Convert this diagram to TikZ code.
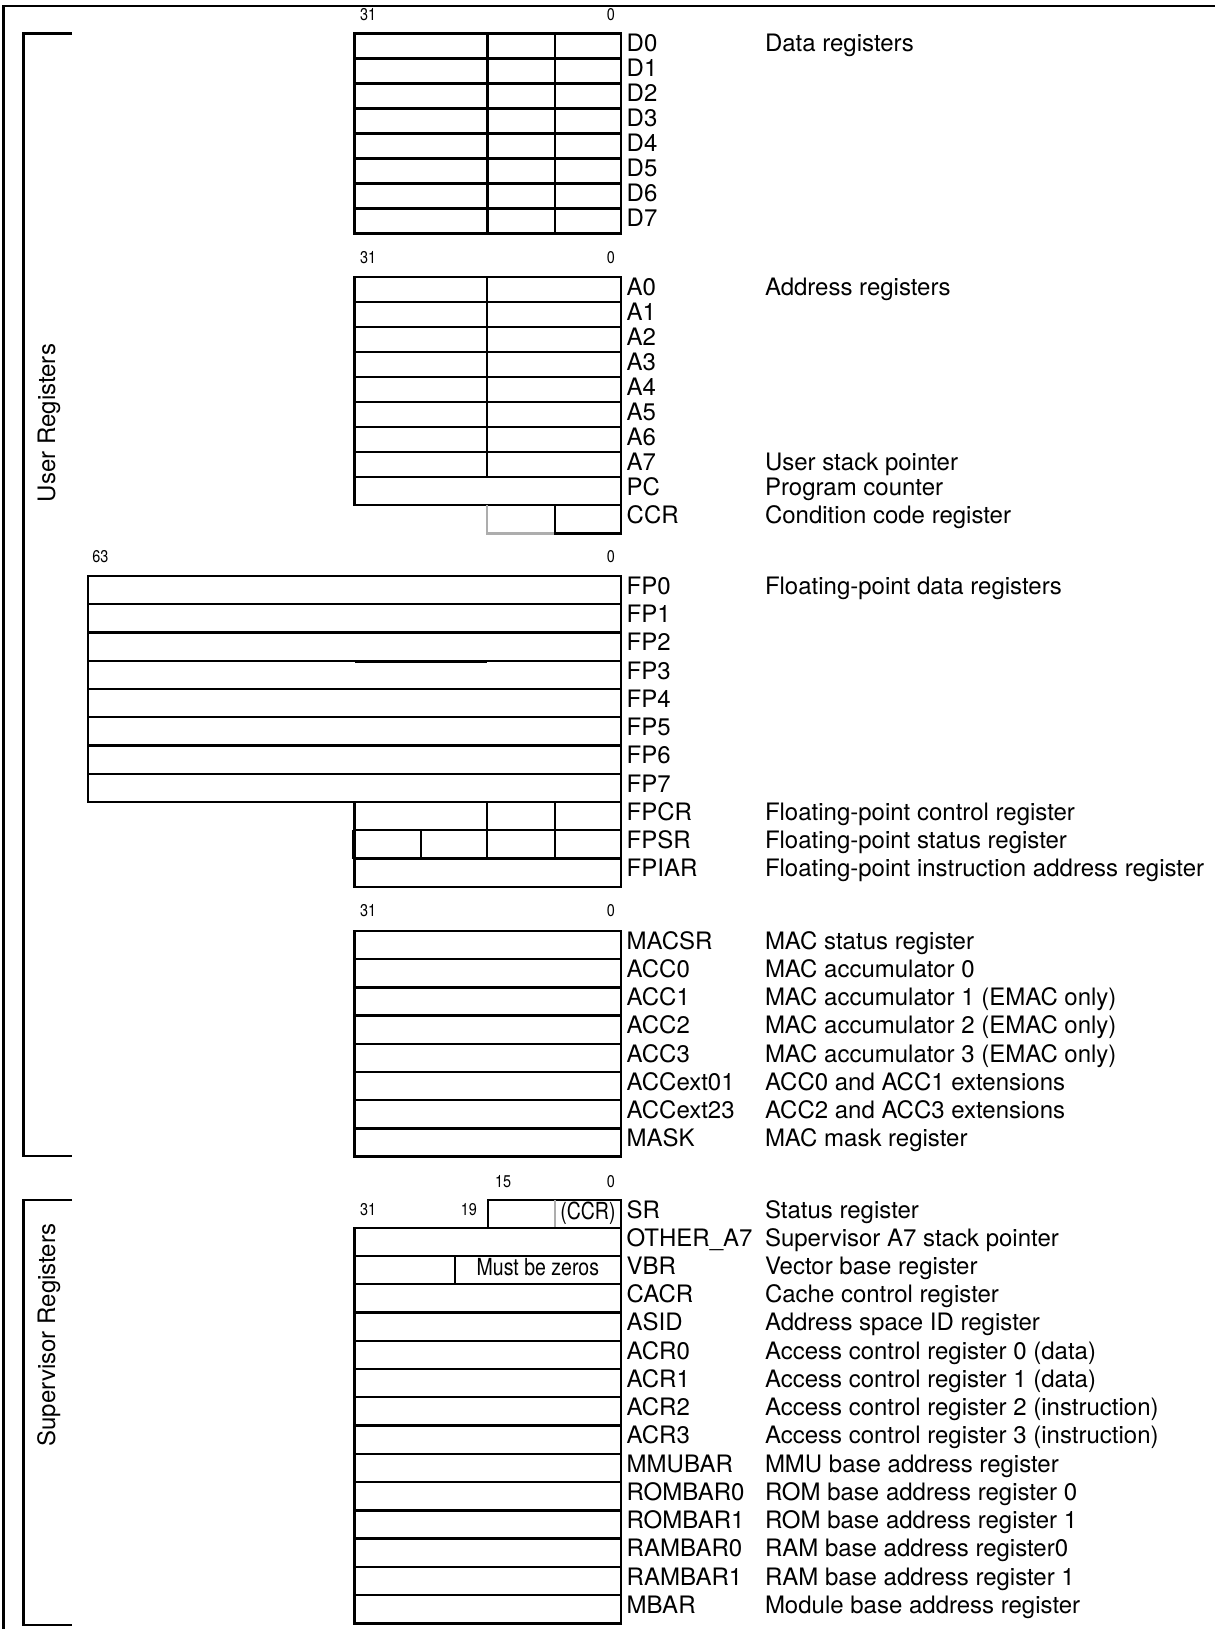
\documentclass[tikz,border=0pt]{standalone}
\usepackage{fontspec}
\setmainfont{TeX Gyre Heros}
\begin{document}
\begin{tikzpicture}[x=0.5pt,y=-0.5pt,
  reg/.style={line width=1.2pt},
  grayln/.style={line width=1.2pt,draw=black!32},
  frameln/.style={line width=1.1pt},
  lbl/.style={anchor=base west,inner sep=0pt,outer sep=0pt,font=\fontsize{12}{14}\selectfont},
  bitlbl/.style={inner sep=0pt,outer sep=0pt,font=\fontsize{8.5}{10}\selectfont},
  narrowlbl/.style={inner sep=0pt,outer sep=0pt,font=\fontsize{11.75}{14}\selectfont},
  side/.style={rotate=90,anchor=base,inner sep=0pt,outer sep=0pt,font=\fontsize{12}{14}\selectfont}]
\useasboundingbox (0,0) rectangle (1215,1629);

% outer frame (top and left only)
\draw[frameln] (3.5,1629) -- (3.5,5.7) -- (1215,5.7);

% brackets
\draw[reg] (72,33.3) -- (23.3,33.3) -- (23.3,1156) -- (72,1156);
\node[side] (userlbl) at (55,423) {User Registers};
\draw[reg] (72,1200) -- (23.3,1200) -- (23.3,1625) -- (72,1625);
\node[side] (suplbl) at (55,1335) {Supervisor Registers};

% ---------------- Data registers
\node[bitlbl,anchor=base west] (dmsb) at (360,20.5) {\scalebox{0.85}[1]{31}};
\node[bitlbl,anchor=base east] (dlsb) at (615,20.5) {\scalebox{0.85}[1]{0}};
\foreach \i in {0,...,7}{
  \draw[reg] (354.3,{33.3+25*\i}) rectangle (621,{58.3+25*\i});
  \node[lbl] (D\i) at (626.7,{51.6+25*\i}) {D\i};
}
\draw[reg] (487.3,33.3) -- (487.3,233.3) (555,33.3) -- (555,233.3);
\node[lbl] (Ddesc) at (765,51.6) {Data registers};

% ---------------- Address registers
\node[bitlbl,anchor=base west] (amsb) at (360,263.8) {\scalebox{0.85}[1]{31}};
\node[bitlbl,anchor=base east] (alsb) at (615,263.8) {\scalebox{0.85}[1]{0}};
\foreach \i in {0,...,7}{
  \draw[reg] (354.3,{276.7+25*\i}) rectangle (621,{301.7+25*\i});
  \node[lbl] (A\i) at (626.7,{295+25*\i}) {A\i};
}
\draw[reg] (486.7,276.7) -- (486.7,476.7);
\draw[reg] (354.3,476.7) rectangle (621,505);
\node[lbl] (PC) at (626.7,495) {PC};
\draw[grayln] (486.7,505) -- (486.7,533.3) -- (555,533.3);
\draw[reg] (555,505) -- (555,533.3) -- (621,533.3) -- (621,505);
\node[lbl] (CCR) at (626.7,523.3) {CCR};
\node[lbl] (A0desc) at (765,295) {Address registers};
\node[lbl] (A7desc) at (765,470) {User stack pointer};
\node[lbl] (PCdesc) at (765,495) {Program counter};
\node[lbl] (CCRdesc) at (765,523.3) {Condition code register};

% ---------------- Floating-point registers
\node[bitlbl,anchor=base west] (fmsb) at (92.3,562.3) {\scalebox{0.85}[1]{63}};
\node[bitlbl,anchor=base east] (flsb) at (615,562.3) {\scalebox{0.85}[1]{0}};
\foreach \i in {0,...,7}{
  \draw[reg] (87.7,{576+28.25*\i}) rectangle (621,{604.25+28.25*\i});
  \node[lbl] (FP\i) at (626.7,{594.3+28.25*\i}) {FP\i};
}
\draw[line width=1pt] (355,661.9) -- (487,661.9);
\node[lbl] (FPdesc) at (765,594.3) {Floating-point data registers};
\draw[reg] (354.3,802) rectangle (621,830.25);
\draw[reg] (486.7,802) -- (486.7,830.25) (555,802) -- (555,830.25);
\draw[reg] (354.3,830.25) rectangle (621,858.5);
\draw[reg] (420.7,830.25) -- (420.7,858.5) (486.7,830.25) -- (486.7,858.5) (555,830.25) -- (555,858.5);
\draw[reg] (353.3,830.25) -- (353.3,858.5);
\draw[reg] (354.3,858.5) rectangle (621,886.75);
\node[lbl] (FPCR) at (626.7,820.3) {FPCR};
\node[lbl] (FPSR) at (626.7,848.5) {FPSR};
\node[lbl] (FPIAR) at (626.7,876.8) {FPIAR};
\node[lbl] (FPCRdesc) at (765,820.3) {Floating-point control register};
\node[lbl] (FPSRdesc) at (765,848.5) {Floating-point status register};
\node[lbl] (FPIARdesc) at (765,876.8) {Floating-point instruction address register};

% ---------------- MAC registers
\node[bitlbl,anchor=base west] (mmsb) at (360,916.5) {\scalebox{0.85}[1]{31}};
\node[bitlbl,anchor=base east] (mlsb) at (615,916.5) {\scalebox{0.85}[1]{0}};
\foreach \n/\d [count=\i from 0] in {MACSR/MAC status register,
    ACC0/MAC accumulator 0,
    ACC1/MAC accumulator 1 (EMAC only),
    ACC2/MAC accumulator 2 (EMAC only),
    ACC3/MAC accumulator 3 (EMAC only),
    ACCext01/ACC0 and ACC1 extensions,
    ACCext23/ACC2 and ACC3 extensions,
    MASK/MAC mask register}{
  \draw[reg] (354.3,{931+28.2*\i}) rectangle (621,{959.2+28.2*\i});
  \node[lbl] (mac\i) at (626.7,{949.3+28.2*\i}) {\n};
  \node[lbl] (macd\i) at (765,{949.3+28.2*\i}) {\d};
}

% ---------------- Supervisor registers
\node[bitlbl,anchor=base west] (s15) at (495,1187.2) {\scalebox{0.85}[1]{15}};
\node[bitlbl,anchor=base east] (s0) at (615,1187.2) {\scalebox{0.85}[1]{0}};
\node[bitlbl,anchor=base west] (s31) at (360,1215.5) {\scalebox{0.85}[1]{31}};
\node[bitlbl,anchor=base east] (s19) at (477,1215.5) {\scalebox{0.85}[1]{19}};
\draw[reg] (487.7,1227.7) -- (487.7,1200) -- (621,1200) -- (621,1227.7);
\draw[grayln] (555,1200) -- (555,1227.7);
\node[narrowlbl,anchor=base east] (ccrsub) at (615.5,1219.5) {\scalebox{0.83}[1]{(CCR)}};
\node[lbl] (SR) at (626.7,1218.3) {SR};
\node[lbl] (SRdesc) at (765,1218.3) {Status register};
\foreach \n/\d [count=\i from 0] in {OTHER\_A7/Supervisor A7 stack pointer,
    VBR/Vector base register,
    CACR/Cache control register,
    ASID/Address space ID register,
    ACR0/Access control register 0 (data),
    ACR1/Access control register 1 (data),
    ACR2/Access control register 2 (instruction),
    ACR3/Access control register 3 (instruction),
    MMUBAR/MMU base address register,
    ROMBAR0/ROM base address register 0,
    ROMBAR1/ROM base address register 1,
    RAMBAR0/RAM base address register0,
    RAMBAR1/RAM base address register 1,
    MBAR/Module base address register}{
  \draw[reg] (354.3,{1227.7+28.26*\i}) rectangle (621,{1255.96+28.26*\i});
  \node[lbl] (sup\i) at (626.7,{1246+28.26*\i}) {\n};
  \node[lbl] (supd\i) at (765,{1246+28.26*\i}) {\d};
}
\draw[reg] (455,1255.96) -- (455,1284.22);
\node[narrowlbl,anchor=base east] (mbz) at (599,1275) {\scalebox{0.83}[1]{Must be zeros}};
\end{tikzpicture}
\end{document}
